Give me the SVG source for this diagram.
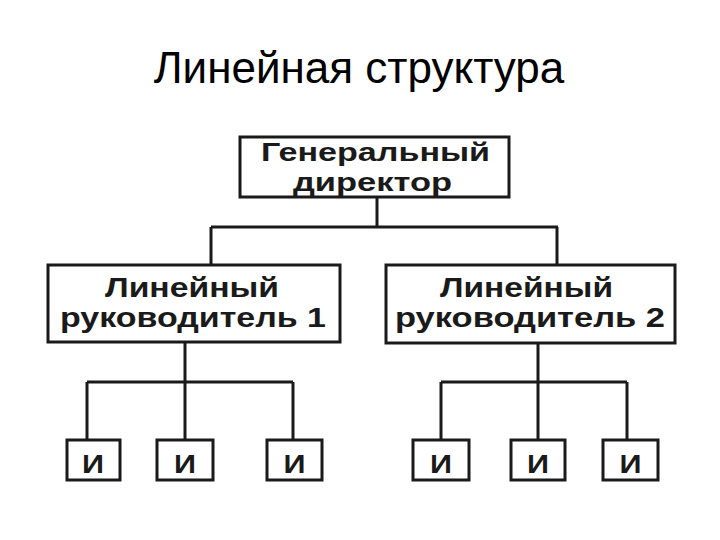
<svg xmlns="http://www.w3.org/2000/svg" width="720" height="540" viewBox="0 0 720 540">
<style>
.box{fill:#fff;stroke:#1a1a1a;stroke-width:3}
.lbl{font-family:"Liberation Sans",Arial,sans-serif;font-weight:bold;font-size:28px;fill:#1a1a1a;text-anchor:middle}
.gd{font-size:26px}
.i{font-size:26px}
.con{fill:none;stroke:#1a1a1a;stroke-width:3}
.title{font-family:"Liberation Sans",Arial,sans-serif;font-size:44px;fill:#000;text-anchor:middle}
</style>
<rect width="720" height="540" fill="#fff"/>
<text class="title" x="359" y="83">Линейная структура</text>
<g id="connectors">
<path class="con" d="M377,197 V227 M211,227 H558 M211,227 V265 M557,227 V265"/>
<path class="con" d="M185,342 V440 M87,382 H293 M87,382 V440 M293,382 V440"/>
<path class="con" d="M538,343 V440 M441,382 H627 M441,382 V440 M627,382 V440"/>
</g>
<g id="gd"><rect class="box" x="240" y="137" width="269" height="60"/><text class="lbl gd" x="375.5" y="161" textLength="229" lengthAdjust="spacingAndGlyphs">Генеральный</text><text class="lbl gd" x="372.5" y="191" textLength="159" lengthAdjust="spacingAndGlyphs">директор</text></g>
<g id="l1"><rect class="box" x="48" y="265" width="292" height="77"/><text class="lbl" x="192" y="297" textLength="174" lengthAdjust="spacingAndGlyphs">Линейный</text><text class="lbl" x="193" y="327" textLength="266" lengthAdjust="spacingAndGlyphs">руководитель 1</text></g>
<g id="l2"><rect class="box" x="386" y="265" width="289" height="78"/><text class="lbl" x="526.5" y="297" textLength="173" lengthAdjust="spacingAndGlyphs">Линейный</text><text class="lbl" x="530" y="327" textLength="270" lengthAdjust="spacingAndGlyphs">руководитель 2</text></g>
<g id="i1"><rect class="box" x="67" y="440" width="53" height="40"/><text class="lbl i" x="93" y="473" textLength="22" lengthAdjust="spacingAndGlyphs">И</text></g>
<g id="i2"><rect class="box" x="157" y="440" width="56" height="40"/><text class="lbl i" x="185" y="473" textLength="22" lengthAdjust="spacingAndGlyphs">И</text></g>
<g id="i3"><rect class="box" x="267" y="440" width="55" height="40"/><text class="lbl i" x="294.5" y="473" textLength="22" lengthAdjust="spacingAndGlyphs">И</text></g>
<g id="i4"><rect class="box" x="413" y="440" width="56" height="40"/><text class="lbl i" x="441" y="473" textLength="22" lengthAdjust="spacingAndGlyphs">И</text></g>
<g id="i5"><rect class="box" x="511" y="440" width="54" height="40"/><text class="lbl i" x="538" y="473" textLength="22" lengthAdjust="spacingAndGlyphs">И</text></g>
<g id="i6"><rect class="box" x="603" y="440" width="55" height="40"/><text class="lbl i" x="630.5" y="473" textLength="22" lengthAdjust="spacingAndGlyphs">И</text></g>
</svg>
